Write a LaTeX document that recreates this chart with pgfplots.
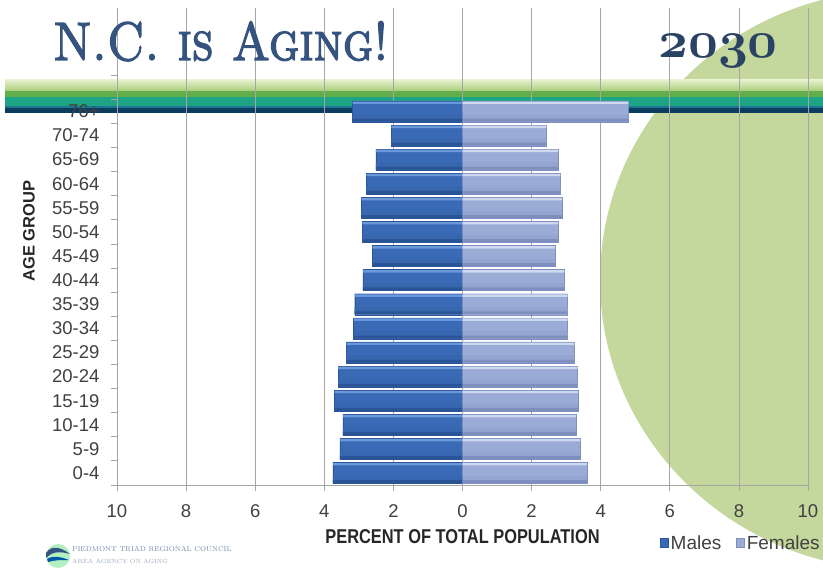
\RequirePackage{fix-cm}
\documentclass[border=0pt]{standalone}
\usepackage{pgfplots}
\usepackage{pgfplotstable}
\pgfplotsset{compat=1.18}
\usepackage{fontspec}
\setsansfont{Liberation Sans}
\newfontfamily\titlefont{lmromancaps10-regular.otf}[FakeBold=2.5]

\definecolor{titleblue}{HTML}{34547F}
\definecolor{circgreen}{HTML}{C4D89D}
\definecolor{maletop}{HTML}{6A98DA}
\definecolor{malemid}{HTML}{3A6AB5}
\definecolor{malebot}{HTML}{2A5495}
\definecolor{femtop}{HTML}{CED8EF}
\definecolor{femmid}{HTML}{9AABD6}
\definecolor{fembot}{HTML}{7E8FBF}
\definecolor{gridgray}{HTML}{A6A6A6}
\definecolor{ticktext}{HTML}{404040}
\definecolor{bandlt}{HTML}{E6F0CC}
\definecolor{bandlt2}{HTML}{A9CC78}
\definecolor{bandgreen}{HTML}{63AF4C}
\definecolor{bandteal}{HTML}{1DA386}
\definecolor{bandblue}{HTML}{1C7890}
\definecolor{bandnavy}{HTML}{0D3D5E}

% y: 0 = 0-4 ... 15 = 76+
\pgfplotstableread{
y  male   female
0  -3.75  3.60
1  -3.55  3.41
2  -3.46  3.29
3  -3.70  3.35
4  -3.60  3.33
5  -3.36  3.24
6  -3.15  3.04
7  -3.12  3.04
8  -2.88  2.95
9  -2.60  2.68
10 -2.90  2.77
11 -2.93  2.88
12 -2.78  2.83
13 -2.51  2.77
14 -2.06  2.43
15 -3.18  4.80
}\pyramid

\begin{document}
\begin{tikzpicture}[x=1pt,y=1pt]
\useasboundingbox (0,0) rectangle (823,586);
% background shapes
\fill[circgreen] (900,306) ellipse [x radius=300, y radius=290];
\shade[top color=bandlt, bottom color=bandlt2] (5,506) rectangle (823,495);
\fill[bandgreen] (5,495) rectangle (823,489);
\fill[bandteal] (5,489) rectangle (823,480);
\fill[bandblue] (5,480) rectangle (823,478);
\fill[bandnavy] (5,478) rectangle (823,473);

\begin{axis}[
    at={(117pt,101pt)}, anchor=south west,
    scale only axis,
    width=691pt, height=477pt,
    xbar, bar width=0.87, bar shift=0,
    xmin=-10, xmax=10,
    ymin=-0.5, ymax=19.29,
    xtick={-10,-8,...,10},
    xticklabel={\pgfmathparse{abs(\tick)}\pgfmathprintnumber{\pgfmathresult}},
    ytick={-0.5,0.5,...,16.5},
    yticklabels={0-4,5-9,10-14,15-19,20-24,25-29,30-34,35-39,40-44,45-49,50-54,55-59,60-64,65-69,70-74,76+,},
    yticklabel style={yshift=12.05pt, xshift=-8pt},
    xticklabel style={yshift=-10pt},
    /pgf/number format/assume math mode=true,
    tick label style={font=\fontsize{18.5}{20}\selectfont\sffamily, text=ticktext},
    tick align=outside,
    major tick length=6pt,
    tick style={gridgray, line width=0.8pt},
    axis x line*=bottom, axis y line*=left,
    axis line style={gridgray, line width=0.8pt},
    xmajorgrids,
    grid style={gridgray, line width=0.8pt},
    xlabel={\scalebox{0.82}[1]{\bfseries PERCENT OF TOTAL POPULATION}},
    xlabel style={font=\fontsize{20}{22}\selectfont\sffamily, text=black!85, yshift=-5pt},
    ylabel={\bfseries AGE GROUP},
    ylabel style={font=\fontsize{16.5}{18}\selectfont\sffamily, text=black!85,
        at={(rel axis cs:0,0.532)}, anchor=center, yshift=88pt},
    legend columns=2,
    legend style={at={(rel axis cs:0.786,-0.1216)}, anchor=west, draw=none, fill=none,
        inner sep=0pt, font=\fontsize{19}{21}\selectfont\sffamily, text=ticktext,
        /tikz/every even column/.append style={column sep=13pt}},
    legend image code/.code={\fill[#1] (0pt,-4.5pt) rectangle (8pt,4.5pt);},
]
% main bars
\addplot[fill=malemid, draw=malebot, line width=0.4pt] table[x=male, y=y] {\pyramid};
\addplot[fill=femmid, draw=fembot, line width=0.4pt] table[x=female, y=y] {\pyramid};
\legend{Males, Females}
% highlight and shade strips on the same values
\addplot[forget plot, fill=maletop, draw=none, bar width=0.10, bar shift=0.36] table[x=male, y=y] {\pyramid};
\addplot[forget plot, fill=malemid!85!malebot, draw=none, bar width=0.30, bar shift=-0.27] table[x=male, y=y] {\pyramid};
\addplot[forget plot, fill=malebot, draw=none, bar width=0.12, bar shift=-0.36] table[x=male, y=y] {\pyramid};
\addplot[forget plot, fill=femtop, draw=none, bar width=0.10, bar shift=0.36] table[x=female, y=y] {\pyramid};
\addplot[forget plot, fill=femmid!80!fembot, draw=none, bar width=0.30, bar shift=-0.27] table[x=female, y=y] {\pyramid};
\addplot[forget plot, fill=fembot, draw=none, bar width=0.12, bar shift=-0.36] table[x=female, y=y] {\pyramid};
\end{axis}

% title
\node[anchor=base west, inner sep=0pt, text=titleblue, font=\fontsize{54}{60}\selectfont\titlefont]
    at (53,526) {\scalebox{0.88}[1]{N.C. is Aging!}};
\node[anchor=base west, inner sep=0pt, text=titleblue!80!black, font=\fontsize{52}{56}\selectfont\boldmath]
    at (658,528) {$\mathnormal{2030}$};

% logo
\fill[teal!40!green!30] (58,30) circle (12);
\fill[titleblue] (46,33) .. controls (52,42) and (62,38) .. (70,32) .. controls (62,34) and (54,36) .. (46,28) -- cycle;
\fill[teal!70!blue] (47,27) .. controls (54,31) and (62,29) .. (69,26) .. controls (62,26) and (54,26) .. (48,24) -- cycle;
\node[anchor=base west, inner sep=0pt, text=titleblue!70, font=\fontsize{7}{8}\selectfont\rmfamily]
    at (72,34) {PIEDMONT TRIAD REGIONAL COUNCIL};
\node[anchor=base west, inner sep=0pt, text=titleblue!50, font=\fontsize{6}{7}\selectfont\rmfamily]
    at (72,22) {AREA AGENCY ON AGING};
\end{tikzpicture}
\end{document}
